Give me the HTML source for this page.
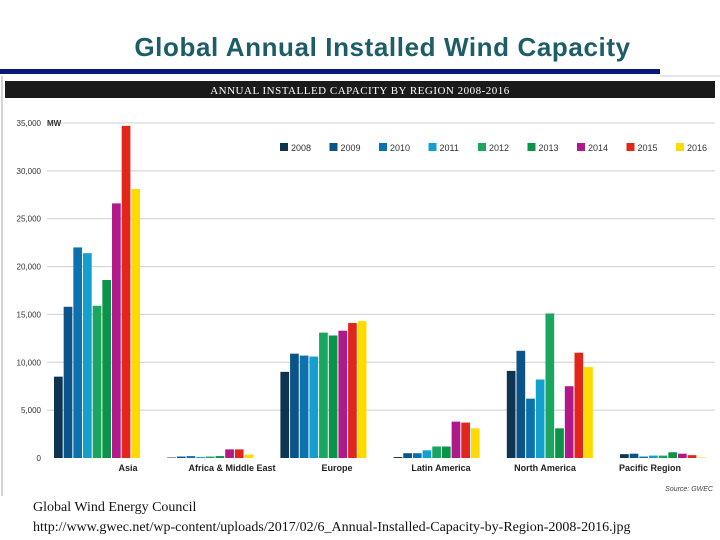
<!DOCTYPE html>
<html><head><meta charset="utf-8"><style>
body{margin:0;width:720px;height:540px;background:#fff;overflow:hidden;position:relative;font-family:"Liberation Sans",sans-serif}
#title{position:absolute;left:0;width:765px;top:32px;text-align:center;font-size:26px;letter-spacing:0.6px;font-weight:bold;color:#1d5d68}
.foot{position:absolute;left:33px;font-family:"Liberation Serif",serif;font-size:14px;color:#111}
</style></head><body>
<div id="title">Global Annual Installed Wind Capacity</div>
<svg id="chart" width="720" height="540" style="position:absolute;left:0;top:0">
<rect x="0" y="69" width="660" height="5" fill="#0a1a7a"/>
<line x1="2" y1="76" x2="2" y2="496" stroke="#aaa"/>
<line x1="660" y1="76" x2="720" y2="76" stroke="#ccc"/>
<rect x="5" y="81" width="710" height="17" fill="#1a1a1a"/>
<text x="360" y="94" text-anchor="middle" fill="#fff" font-family="Liberation Serif" font-size="11" letter-spacing="0.5">ANNUAL INSTALLED CAPACITY BY REGION 2008-2016</text>
<g id="grid"></g><g id="bars"></g><g id="legend"></g>
<text x="713" y="491" text-anchor="end" font-size="7" font-style="italic" fill="#444">Source: GWEC</text>
</svg>
<div class="foot" style="top:500px">Global Wind Energy Council</div>
<div class="foot" style="top:520px">http://www.gwec.net/wp-content/uploads/2017/02/6_Annual-Installed-Capacity-by-Region-2008-2016.jpg</div>
<script>
const regions=["Asia","Africa & Middle East","Europe","Latin America","North America","Pacific Region"];
const years=["2008","2009","2010","2011","2012","2013","2014","2015","2016"];
const asia=[8500,15800,22000,21400,15900,18600,26600,34700,28100];
const africa=[50,150,200,100,150,200,900,900,350];
const europe=[9000,10900,10700,10600,13100,12800,13300,14100,14300];
const latin=[100,500,500,800,1200,1200,3800,3700,3100];
const northAmerica=[9100,11200,6200,8200,15100,3100,7500,11000,9500];
const pacific=[400,450,150,250,250,600,450,300,50];
const yTicks=[0,5000,10000,15000,20000,25000,30000,35000];
const yTickLabels=["0","5,000","10,000","15,000","20,000","25,000","30,000","35,000"];
const colors=["#0d3551","#0b5389","#0b72ad","#14a0cf","#1aa65f","#0a9447","#b0198a","#e2261c","#fedb00"];
const series=[asia,africa,europe,latin,northAmerica,pacific];
const NS="http://www.w3.org/2000/svg";
const y=v=>458-v*(335/35000);
const gx=i=>54+i*113.2, bx=(i,j)=>gx(i)+j*9.67;
const mk=(t,a,p)=>{const e=document.createElementNS(NS,t);for(const k in a)e.setAttribute(k,a[k]);p.appendChild(e);return e;};
const grid=document.getElementById('grid'),bars=document.getElementById('bars'),leg=document.getElementById('legend');
yTicks.forEach((v,i)=>{
  if(i>0){const l=mk('line',{x1:47,x2:715,y1:y(v),y2:y(v),stroke:'#cfcfcf','stroke-width':1},grid);
  
  }
  const t=mk('text',{x:41,y:y(v)+3,'text-anchor':'end','font-size':8,fill:'#333'},grid);t.textContent=yTickLabels[i];
  
  
});
const mw=mk('text',{x:47,y:y(35000)+3,'font-size':8,'font-weight':'bold',fill:'#333'},grid);mw.textContent='MW';


const labelX=[128,232,337,441,545,650];
series.forEach((s,i)=>{
  s.forEach((v,j)=>{
    const r=mk('rect',{x:bx(i,j),y:y(v),width:8.7,height:458-y(v),fill:colors[j]},bars);
    
    
  });
  const t=mk('text',{x:labelX[i],y:471,'text-anchor':'middle','font-size':9,'font-weight':'bold',fill:'#222'},bars);t.textContent=regions[i];
  
  
});
years.forEach((yr,j)=>{
  const x=280+j*49.5;
  const g=mk('g',{},leg);
  
  
  mk('rect',{x:x,y:143,width:8,height:8,fill:colors[j]},g);
  const t=mk('text',{x:x+11,y:151,'font-size':9,fill:'#333'},g);t.textContent=yr;
});
</script>
</body></html>
